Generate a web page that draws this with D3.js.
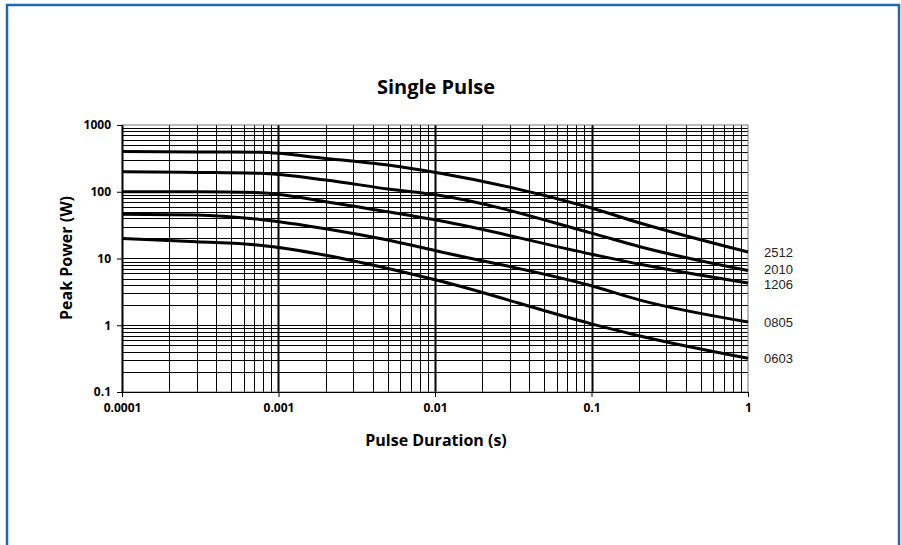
<!DOCTYPE html>
<html>
<head>
<meta charset="utf-8">
<script src="https://cdn.jsdelivr.net/npm/d3@7"></script>
<style>
  body { margin: 0; background: #fff; }
  svg { display: block; }
</style>
</head>
<body>
<div id="chart"></div>
<script>
// Chart values
const durations = [0.0001, 0.0003, 0.00076, 0.002, 0.005, 0.0108, 0.1, 0.204, 1];
const sizes = ["2512", "2010", "1206", "0805", "0603"];
const p2512 = [400, 395, 390, 316, 251, 189, 57, 34, 12.5];
const p2010 = [200, 195, 189, 150, 110, 88, 24, 15, 6.6];
const p1206 = [100, 100, 97, 71, 50, 36.7, 11.6, 8.2, 4.3];
const p0805 = [46, 45, 38.5, 28, 18.9, 12.6, 3.9, 2.38, 1.12];
const p0603 = [20, 17.8, 15.8, 11.2, 7.1, 4.6, 1.05, 0.69, 0.32];
const xTicks = [0.0001, 0.001, 0.01, 0.1, 1];
const xTickLabels = ["0.0001", "0.001", "0.01", "0.1", "1"];
const yTicks = [0.1, 1, 10, 100, 1000];
const yTickLabels = ["0.1", "1", "10", "100", "1000"];

const series = [p2512, p2010, p1206, p0805, p0603].map((vals, i) => ({
    name: sizes[i],
    points: vals.map((v, j) => ({t: durations[j], p: v}))
}));

// Plot area
const W = 901, H = 545;
const margin = {top: 125, right: 153, bottom: 153, left: 122};
const width = W - margin.left - margin.right;
const height = H - margin.top - margin.bottom;

const root = d3.select("#chart")
    .append("svg")
    .attr("width", W)
    .attr("height", H);

// blue frame round the whole picture
root.append("rect")
    .attr("x", 7)
    .attr("y", 5)
    .attr("width", 892)
    .attr("height", 560)
    .style("fill", "none")
    .style("stroke", "#1f6aad")
    .style("stroke-width", 2.5);

const svg = root.append("g")
    .attr("transform", `translate(${margin.left},${margin.top})`);

const x = d3.scaleLog().domain([0.0001, 1]).range([0, width]);
const y = d3.scaleLog().domain([0.1, 1000]).range([height, 0]);

// grid: every 1..9 step of each decade
const xGrid = [];
for (let e = -4; e < 0; e++) for (let m = 1; m < 10; m++) xGrid.push(m * Math.pow(10, e));
const yGrid = [];
for (let e = -1; e < 3; e++) for (let m = 1; m < 10; m++) yGrid.push(m * Math.pow(10, e));

svg.append("g")
    .selectAll("line")
    .data(yGrid)
    .enter()
    .append("line")
    .attr("x1", 0)
    .attr("x2", width)
    .attr("y1", d => Math.round(y(d)) + 0.5)
    .attr("y2", d => Math.round(y(d)) + 0.5)
    .style("stroke", "#000")
    .style("stroke-width", 1);

svg.append("g")
    .selectAll("line")
    .data(xGrid)
    .enter()
    .append("line")
    .attr("y1", 0)
    .attr("y2", height)
    .attr("x1", d => Math.round(x(d)) + 0.5)
    .attr("x2", d => Math.round(x(d)) + 0.5)
    .style("stroke", "#000")
    .style("stroke-width", d => (Math.round(d / Math.pow(10, Math.floor(Math.log10(d) + 1e-9))) === 1 ? 2 : 1));

// plot frame
svg.append("rect")
    .attr("width", width)
    .attr("height", height)
    .style("fill", "none")
    .style("stroke", "#777")
    .style("stroke-width", 1);

// curves
const line = d3.line()
    .x(d => x(d.t))
    .y(d => y(d.p))
    .curve(d3.curveMonotoneX);

svg.selectAll(".curve")
    .data(series)
    .enter()
    .append("path")
    .attr("class", "curve")
    .attr("d", d => line(d.points))
    .style("fill", "none")
    .style("stroke", "#000")
    .style("stroke-width", 3);

// axes
const xAxis = svg.append("g")
    .attr("transform", `translate(0,${height})`)
    .call(d3.axisBottom(x)
        .tickValues(xTicks)
        .tickFormat((d, i) => xTickLabels[i])
        .tickSize(5)
        .tickSizeOuter(0)
        .tickPadding(6));

const yAxis = svg.append("g")
    .call(d3.axisLeft(y)
        .tickValues(yTicks)
        .tickFormat((d, i) => yTickLabels[i])
        .tickSize(5)
        .tickSizeOuter(0)
        .tickPadding(6));

[xAxis, yAxis].forEach(a => {
    a.select(".domain").style("stroke", "#000");
    a.selectAll(".tick line").style("stroke", "#000");
    a.selectAll("text")
        .style("font-family", "'Open Sans', sans-serif")
        .style("font-weight", "bold")
        .style("font-size", "12px")
        .style("fill", "#000");
});

// series labels at the right end, pushed apart so they do not collide
const labelGap = 15.5;
const labelY = series.map(d => y(d.points[d.points.length - 1].p));
for (let k = 0; k < 10; k++) {
    for (let i = 1; i < labelY.length; i++) {
        const gap = labelY[i] - labelY[i - 1];
        if (gap < labelGap) {
            const shift = (labelGap - gap) / 2;
            labelY[i - 1] -= shift;
            labelY[i] += shift;
        }
    }
}

svg.selectAll(".label")
    .data(series)
    .enter()
    .append("text")
    .attr("class", "label")
    .attr("x", width + 16)
    .attr("y", (d, i) => labelY[i])
    .attr("dy", ".35em")
    .style("font-family", "'Liberation Sans', sans-serif")
    .style("font-size", "13px")
    .style("fill", "#222")
    .text(d => d.name);

// title
root.append("text")
    .attr("x", 436)
    .attr("y", 94)
    .style("text-anchor", "middle")
    .style("font-family", "'Open Sans', sans-serif")
    .style("font-weight", "bold")
    .style("font-size", "20px")
    .text("Single Pulse");

// axis titles
root.append("text")
    .attr("x", 436)
    .attr("y", 446)
    .style("text-anchor", "middle")
    .style("font-family", "'Open Sans', sans-serif")
    .style("font-weight", "bold")
    .style("font-size", "16px")
    .text("Pulse Duration (s)");

root.append("text")
    .attr("transform", "translate(72,258) rotate(-90)")
    .style("text-anchor", "middle")
    .style("font-family", "'Open Sans', sans-serif")
    .style("font-weight", "bold")
    .style("font-size", "16px")
    .text("Peak Power (W)");
</script>
</body>
</html>
